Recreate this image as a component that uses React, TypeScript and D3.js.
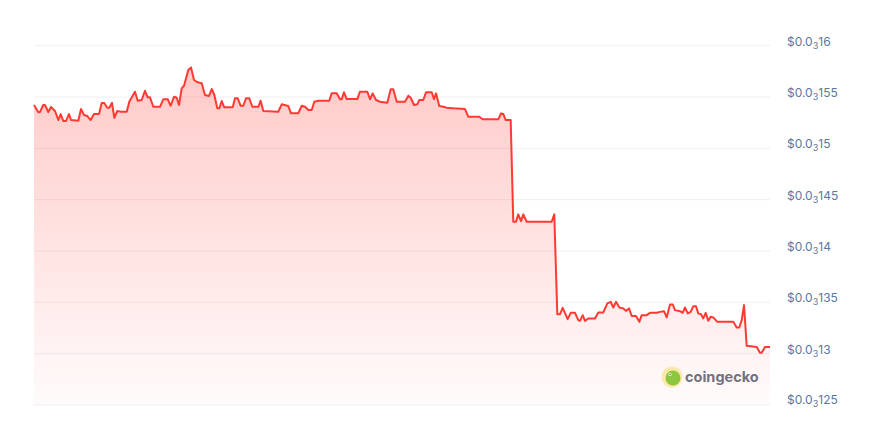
import React from "react";
import * as d3 from "d3";

// hours since start of the 7-day window
const hours: number[] = [
  0, 0.98, 1.37, 2.12, 2.51, 3.26, 3.88, 4.79, 5.55, 6.09, 6.69, 7.3, 7.99, 8.45, 10.11, 10.73, 11.41, 12.17, 12.94, 13.7,
  14.84, 15.45, 16.05, 16.73, 17.19, 17.8, 18.33, 19.01, 19.79, 21.16, 21.75, 23.05, 23.67, 24.58, 25.34, 25.95, 26.48, 27.23, 28.76, 29.51,
  30.52, 31.2, 31.96, 32.57, 33.1, 33.71, 34.24, 35.22, 35.84, 36.52, 37.37, 38.28, 39.03, 39.95, 40.56, 41.16, 41.84, 42.3, 42.85, 43.44,
  45.36, 45.88, 46.5, 47.18, 47.77, 48.39, 49.14, 49.83, 51.2, 51.73, 52.34, 55.76, 56.54, 58.05, 58.66, 60.33, 61.11, 61.86, 62.61, 63.39,
  63.98, 64.89, 67.4, 67.95, 69.1, 69.85, 70.24, 70.76, 71.38, 73.8, 74.41, 76.08, 76.7, 77.31, 78.07, 78.98, 80.64, 81.42, 82.01, 82.79,
  84.68, 85.44, 85.98, 86.74, 87.49, 87.95, 88.86, 89.48, 90.78, 91.3, 91.76, 92.51, 93.43, 94.2, 95.71, 98.38, 99.13, 101.64, 102.42, 105.98,
  106.6, 107.12, 107.67, 108.81, 109.4, 110.02, 110.54, 111.16, 111.69, 112.46, 118.17, 118.76, 119.45, 120.07, 120.68, 121.82, 122.51, 123.49, 124.24, 124.63,
  125.25, 125.77, 126.53, 128.05, 128.81, 129.95, 130.86, 131.64, 132.23, 132.85, 133.6, 134.51, 135.13, 135.81, 136.43, 137.41, 138.17, 138.71, 139.85, 140.61,
  142.14, 142.89, 143.8, 144.42, 145.17, 145.79, 146.31, 147.45, 148.07, 148.6, 149.21, 149.9, 150.49, 151.1, 151.63, 152.25, 152.77, 153.32, 153.92, 154.46,
  155.06, 155.97, 159.62, 160.4, 160.99, 161.54, 162.07, 162.68, 164.97, 165.72, 166.1, 166.86, 168,
];

// price in units of 1e-5 USD
const pricesE5: number[] = [
  15.422, 15.351, 15.354, 15.422, 15.422, 15.354, 15.403, 15.364, 15.276, 15.334, 15.266, 15.266, 15.334, 15.276, 15.269, 15.383, 15.325, 15.315, 15.276, 15.334,
  15.334, 15.442, 15.442, 15.396, 15.396, 15.444, 15.298, 15.364, 15.357, 15.357, 15.454, 15.552, 15.464, 15.471, 15.561, 15.497, 15.497, 15.405, 15.405, 15.478,
  15.478, 15.415, 15.503, 15.493, 15.422, 15.585, 15.61, 15.763, 15.789, 15.666, 15.643, 15.634, 15.52, 15.51, 15.578, 15.52, 15.39, 15.39, 15.461, 15.4,
  15.4, 15.487, 15.487, 15.415, 15.415, 15.487, 15.487, 15.405, 15.405, 15.464, 15.364, 15.357, 15.429, 15.412, 15.341, 15.341, 15.415, 15.405, 15.373, 15.373,
  15.454, 15.464, 15.464, 15.536, 15.536, 15.478, 15.478, 15.546, 15.48, 15.48, 15.552, 15.552, 15.478, 15.536, 15.471, 15.454, 15.444, 15.575, 15.575, 15.454,
  15.454, 15.513, 15.493, 15.422, 15.429, 15.471, 15.471, 15.546, 15.546, 15.48, 15.536, 15.412, 15.405, 15.396, 15.39, 15.383, 15.308, 15.308, 15.283, 15.283,
  15.341, 15.334, 15.276, 15.276, 14.285, 14.285, 14.357, 14.291, 14.357, 14.285, 14.285, 14.357, 13.385, 13.385, 13.446, 13.336, 13.398, 13.398, 13.327, 13.32,
  13.375, 13.32, 13.343, 13.343, 13.402, 13.402, 13.489, 13.505, 13.45, 13.505, 13.45, 13.441, 13.417, 13.441, 13.368, 13.368, 13.31, 13.375, 13.375, 13.398,
  13.398, 13.407, 13.414, 13.353, 13.48, 13.48, 13.424, 13.414, 13.398, 13.45, 13.392, 13.407, 13.463, 13.463, 13.392, 13.385, 13.343, 13.398, 13.32, 13.359,
  13.353, 13.31, 13.31, 13.255, 13.255, 13.327, 13.473, 13.076, 13.066, 13.008, 13.008, 13.066, 13.066,
];

const tickValuesE5: number[] = [16, 15.5, 15, 14.5, 14, 13.5, 13, 12.5];
const tickDigits: string[] = ["16", "155", "15", "145", "14", "135", "13", "125"];

const W = 873;
const H = 438;
const M = { left: 34, right: 103, top: 45.7, bottom: 33 };

export default function App() {
  const x = d3.scaleLinear().domain([0, 168]).range([M.left, W - M.right]);
  const y = d3.scaleLinear().domain([12.5, 16]).range([H - M.bottom, M.top]);

  const data = hours.map((h, i) => ({ h, p: pricesE5[i] }));
  const line = d3
    .line<{ h: number; p: number }>()
    .x((d) => x(d.h))
    .y((d) => y(d.p));
  const area = d3
    .area<{ h: number; p: number }>()
    .x((d) => x(d.h))
    .y0(y(12.5))
    .y1((d) => y(d.p));

  const topY = y(d3.max(pricesE5) as number);

  return (
    <svg
      width={W}
      height={H}
      style={{ position: "absolute", left: 0, top: 0, background: "#fff" }}
      fontFamily="Inter, 'Noto Sans', sans-serif"
    >
      <defs>
        <linearGradient id="fillGrad" gradientUnits="userSpaceOnUse" x1="0" y1={topY} x2="0" y2={y(12.5)}>
          <stop offset="0%" stopColor="#ff3a33" stopOpacity={0.27} />
          <stop offset="100%" stopColor="#ff3a33" stopOpacity={0.02} />
        </linearGradient>
      </defs>

      {tickValuesE5.map((t) => (
        <line key={"g" + t} x1={M.left} x2={W - M.right} y1={y(t)} y2={y(t)} stroke="#eef0f3" strokeWidth={1} />
      ))}

      <path d={area(data) as string} fill="url(#fillGrad)" />
      <path d={line(data) as string} fill="none" stroke="#ff3a33" strokeWidth={2} strokeLinejoin="round" />

      {tickValuesE5.map((t, i) => (
        <text key={"l" + t} x={787} y={y(t) + (i === tickValuesE5.length - 1 ? -1 : 0)} fontSize={12} fill="#5a78a0">
          $0.0
          <tspan fontSize={9} dy={3}>3</tspan>
          <tspan dy={-3}>{tickDigits[i]}</tspan>
        </text>
      ))}

      <g transform="translate(672,377)">
        <circle r={10.5} fill="#f9e7a0" opacity={0.9} />
        <circle cx={1} cy={1} r={7.5} fill="#8dc63f" />
        <circle cx={-2} cy={-2.5} r={1.6} fill="#fff" />
        <circle cx={-2} cy={-2.5} r={0.8} fill="#5a6a3a" />
      </g>
      <text x={685} y={382} fontSize={14.5} fontWeight={700} fill="#5c5868" opacity={0.85}>
        coingecko
      </text>
    </svg>
  );
}
